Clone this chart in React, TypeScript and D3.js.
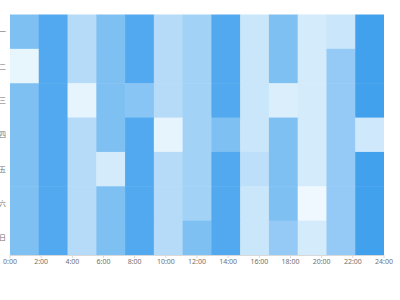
import React from "react";
import * as d3 from "d3";

const days = ["一", "二", "三", "四", "五", "六", "日"];
const hourTicks = [0, 2, 4, 6, 8, 10, 12, 14, 16, 18, 20, 22, 24];
const columnCount = 13;

// values per weekday row, 13 time bins across 0:00–24:00
const mon = [65, 91, 34, 65, 91, 34, 44, 91, 22, 65, 16, 22, 100];
const tue = [5, 91, 34, 65, 91, 34, 44, 91, 22, 65, 16, 53, 100];
const wed = [65, 91, 6, 65, 59, 34, 44, 91, 22, 12, 16, 53, 100];
const thu = [65, 91, 34, 65, 91, 6, 44, 65, 22, 65, 16, 53, 19];
const fri = [65, 91, 34, 16, 91, 34, 44, 91, 29, 65, 16, 53, 100];
const sat = [65, 91, 34, 65, 91, 34, 44, 91, 22, 65, 1, 53, 100];
const sun = [65, 91, 34, 65, 91, 34, 65, 91, 22, 53, 16, 53, 100];
const values = [mon, tue, wed, thu, fri, sat, sun];

const W = 400;
const H = 300;
const left = 10;
const right = 384;
const top = 14.5;
const bottom = 255;

export default function App() {
  const xAxis = d3.scaleLinear().domain([0, 24]).range([left, right]);
  const xBand = d3
    .scaleBand<number>()
    .domain(d3.range(columnCount))
    .range([left, right])
    .paddingInner(0)
    .paddingOuter(0);
  const yBand = d3.scaleBand<string>().domain(days).range([top, bottom]);
  const color = d3
    .scaleLinear<string>()
    .domain([0, 100])
    .range(["#f0f9fe", "#42a1ed"])
    .interpolate(d3.interpolateRgb);

  const font = "'Noto Sans', 'Noto Sans CJK SC', sans-serif";
  const lastCol = columnCount - 1;

  return (
    <svg
      width={W}
      height={H}
      style={{ position: "fixed", left: 0, top: 0, background: "#fff" }}
    >
      <g>
        {values.map((row, ri) =>
          row.map((v, ci) => (
            <rect
              key={`${ri}-${ci}`}
              x={xBand(ci)}
              y={yBand(days[ri])}
              width={xBand.bandwidth() + (ci < lastCol ? 0.5 : 0)}
              height={yBand.bandwidth() + (ri < days.length - 1 ? 0.5 : 0)}
              fill={color(v)}
            />
          ))
        )}
      </g>
      <line
        x1={left}
        x2={right}
        y1={bottom + 0.5}
        y2={bottom + 0.5}
        stroke="#d9d9d9"
        strokeWidth={1}
      />
      {hourTicks.map((h) => (
        <g key={h}>
          <line
            x1={xAxis(h)}
            x2={xAxis(h)}
            y1={bottom}
            y2={bottom + 3}
            stroke="#d9d9d9"
          />
          <text
            x={xAxis(h)}
            y={263.5}
            fontSize={7}
            fill="#707070"
            textAnchor="middle"
            fontFamily={font}
          >
            {`${h}:00`}
          </text>
        </g>
      ))}
      {days.map((d) => (
        <text
          key={d}
          x={6}
          y={(yBand(d) ?? 0) + yBand.bandwidth() / 2}
          fontSize={7}
          fill="#707070"
          textAnchor="end"
          dominantBaseline="central"
          fontFamily={font}
        >
          {d}
        </text>
      ))}
    </svg>
  );
}
